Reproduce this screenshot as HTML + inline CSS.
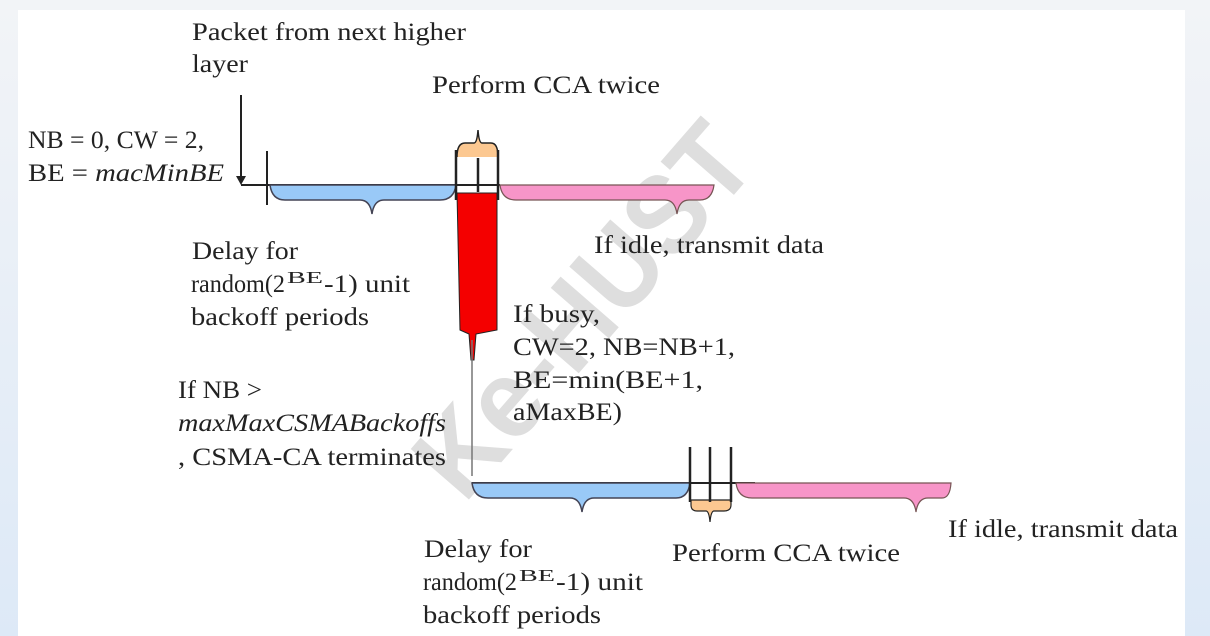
<!DOCTYPE html>
<html><head><meta charset="utf-8"><style>
html,body{margin:0;padding:0;width:1210px;height:636px;overflow:hidden;background:#eef2f7}
svg{display:block}
text{font-family:"Liberation Serif",serif;font-size:25px;fill:#222}
text.sup{font-size:17px}
</style></head><body>
<svg width="1210" height="636" viewBox="0 0 1210 636">
<defs><linearGradient id="bg" x1="0" y1="0" x2="0" y2="1"><stop offset="0" stop-color="#f2f4f7"/><stop offset="1" stop-color="#dde9f7"/></linearGradient></defs>
<rect width="1210" height="636" fill="url(#bg)"/>
<rect x="18" y="10" width="1167" height="626" fill="#fff"/>

<!-- watermark -->
<text x="0" y="0" transform="translate(612,335) rotate(-49)" text-anchor="middle" textLength="450" lengthAdjust="spacingAndGlyphs" style="font-family:'Liberation Sans',sans-serif;font-weight:bold;font-size:112px;fill:#dedede">Ke-HUST</text>

<!-- top timeline -->
<path d="M241,95 V183" stroke="#222" stroke-width="2"/>
<path d="M236,176 L241,185 L246,176 Z" fill="#222"/>
<path d="M241,185 H500" stroke="#222" stroke-width="2"/>
<path d="M267,151 V205" stroke="#222" stroke-width="2"/>
<path d="M270,185 Q272,200 285,200 H360 Q370,200 372,214 Q374,200 384,200 H440 Q454,200 456,185 Z" fill="#99c9f7" stroke="#445" stroke-width="1.5"/>
<path d="M500,185 Q502,200 516,200 H665 Q675,200 677,214 Q679,200 689,200 H700 Q712,200 714,185 Z" fill="#f795c8" stroke="#755" stroke-width="1.2"/>
<path d="M457,157 Q457,143 465,143 H474 Q477,143 478,130 Q479,143 482,143 H491 Q498,143 498,157 Z" fill="#fcc891"/>
<path d="M457,157 Q457,143 465,143 H474 Q477,143 478,130 Q479,143 482,143 H491 Q498,143 498,157" fill="none" stroke="#222" stroke-width="1.5"/>
<path d="M456,150 V200 M478,158 V192 M498,150 V200" stroke="#222" stroke-width="2.5"/>
<path d="M457,193 H497 V330 L476,334 L474,360 L471,360 L469,334 L460,330 Z" fill="#f40000" stroke="#222" stroke-width="1"/>
<path d="M472,340 V476" stroke="#777" stroke-width="1.5"/>

<!-- bottom timeline -->
<path d="M472,483 H755" stroke="#222" stroke-width="2"/>
<path d="M472,483 Q474,498 488,498 H570 Q580,498 582,512 Q584,498 594,498 H676 Q688,498 690,483 Z" fill="#99c9f7" stroke="#445" stroke-width="1.5"/>
<path d="M736,483 Q738,498 752,498 H904 Q914,498 916,512 Q918,498 928,498 H942 Q950,498 951,483 Z" fill="#f795c8" stroke="#755" stroke-width="1.2"/>
<path d="M691,500 H731 V505 Q731,511 724,511 H714 Q711,511 710,522 Q709,511 706,511 H697 Q691,511 691,505 Z" fill="#fcc891" stroke="#222" stroke-width="1.2"/>
<path d="M690,447 V502 M710,447 V502 M731,447 V502" stroke="#222" stroke-width="2.5"/>

<!-- labels -->
<text x="192" y="40" textLength="274" lengthAdjust="spacingAndGlyphs">Packet from next higher</text>
<text x="192" y="72" textLength="56" lengthAdjust="spacingAndGlyphs">layer</text>
<text x="432" y="93" textLength="228" lengthAdjust="spacingAndGlyphs">Perform CCA twice</text>
<text x="28" y="148" textLength="176" lengthAdjust="spacingAndGlyphs">NB = 0, CW = 2,</text>
<text x="28" y="181" textLength="196" lengthAdjust="spacingAndGlyphs">BE = <tspan font-style="italic">macMinBE</tspan></text>
<text x="192" y="259" textLength="106" lengthAdjust="spacingAndGlyphs">Delay for</text>
<text x="191" y="292" textLength="94" lengthAdjust="spacingAndGlyphs">random(2</text>
<text class="sup" x="287" y="283" textLength="36" lengthAdjust="spacingAndGlyphs">BE</text>
<text x="324" y="292" textLength="86" lengthAdjust="spacingAndGlyphs">-1) unit</text>
<text x="191" y="325" textLength="178" lengthAdjust="spacingAndGlyphs">backoff periods</text>
<text x="594" y="253" textLength="230" lengthAdjust="spacingAndGlyphs">If idle, transmit data</text>
<text x="513" y="322" textLength="87" lengthAdjust="spacingAndGlyphs">If busy,</text>
<text x="513" y="355" textLength="222" lengthAdjust="spacingAndGlyphs">CW=2, NB=NB+1,</text>
<text x="513" y="388" textLength="190" lengthAdjust="spacingAndGlyphs">BE=min(BE+1,</text>
<text x="513" y="420" textLength="109" lengthAdjust="spacingAndGlyphs">aMaxBE)</text>
<text x="178" y="398" textLength="84" lengthAdjust="spacingAndGlyphs">If NB &gt;</text>
<text x="178" y="431" font-style="italic" textLength="268" lengthAdjust="spacingAndGlyphs">maxMaxCSMABackoffs</text>
<text x="178" y="465" textLength="268" lengthAdjust="spacingAndGlyphs">, CSMA-CA terminates</text>
<text x="424" y="557" textLength="108" lengthAdjust="spacingAndGlyphs">Delay for</text>
<text x="423" y="590" textLength="94" lengthAdjust="spacingAndGlyphs">random(2</text>
<text class="sup" x="519" y="581" textLength="36" lengthAdjust="spacingAndGlyphs">BE</text>
<text x="556" y="590" textLength="87" lengthAdjust="spacingAndGlyphs">-1) unit</text>
<text x="423" y="623" textLength="178" lengthAdjust="spacingAndGlyphs">backoff periods</text>
<text x="672" y="561" textLength="228" lengthAdjust="spacingAndGlyphs">Perform CCA twice</text>
<text x="948" y="537" textLength="230" lengthAdjust="spacingAndGlyphs">If idle, transmit data</text>
</svg>
</body></html>
